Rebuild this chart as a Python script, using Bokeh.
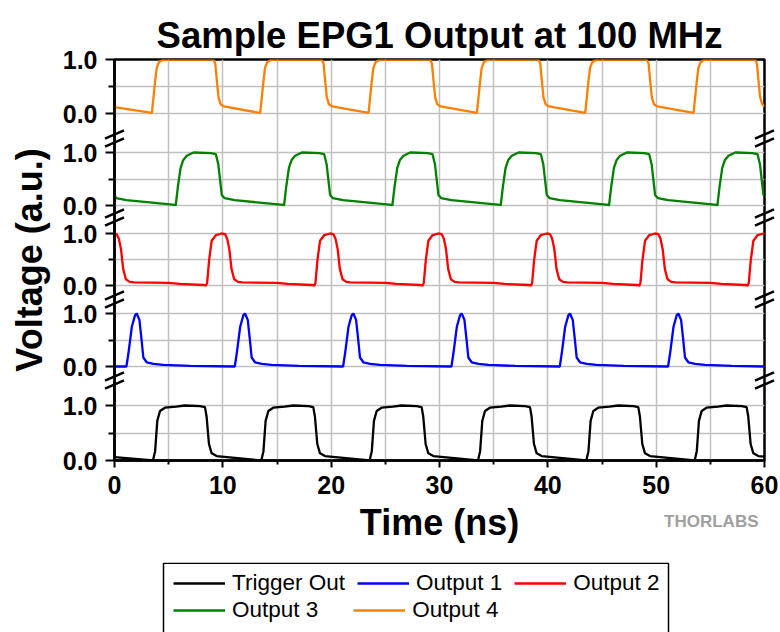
from bokeh.plotting import figure
from bokeh.models import (Range1d, FixedTicker, Legend, LegendItem, ColumnDataSource)
from bokeh.layouts import column
from bokeh.core.properties import value
from bokeh.embed import file_html
from bokeh.resources import INLINE

# ---------------- data ----------------
title_text = "Sample EPG1 Output at 100 MHz"
x_label = "Time (ns)"
y_label = "Voltage (a.u.)"
logo_text = "THORLABS"
x_ticks = [0, 10, 20, 30, 40, 50, 60]
x_minor_ticks = [5, 15, 25, 35, 45, 55]
x_grid = [5, 10, 15, 20, 25, 30, 35, 40, 45, 50, 55]
y_tick_labels = ["0.0", "1.0"]
y_minor_value = 0.5

series_names = ["Trigger Out", "Output 1", "Output 2", "Output 3", "Output 4"]
series_colors = ["#000000", "#0000FF", "#FF0000", "#008000", "#FF8000"]
legend_rows = [[0, 1, 2], [3, 4]]

trigger_t = [0.0,
    3.55, 3.75, 3.95, 4.2, 4.65, 5.7, 6.5, 7.9, 8.35, 8.5, 8.72, 8.97, 9.43,
    13.55, 13.75, 13.95, 14.2, 14.65, 15.7, 16.5, 17.9, 18.35, 18.5, 18.72, 18.97, 19.43,
    23.55, 23.75, 23.95, 24.2, 24.65, 25.7, 26.5, 27.9, 28.35, 28.5, 28.72, 28.97, 29.43,
    33.55, 33.75, 33.95, 34.2, 34.65, 35.7, 36.5, 37.9, 38.35, 38.5, 38.72, 38.97, 39.43,
    43.55, 43.75, 43.95, 44.2, 44.65, 45.7, 46.5, 47.9, 48.35, 48.5, 48.72, 48.97, 49.43,
    53.55, 53.75, 53.95, 54.2, 54.65, 55.7, 56.5, 57.9, 58.35, 58.5, 58.72, 58.97, 59.43,
    60.0]
trigger_v = [0.06,
    0.0, 0.17, 0.72, 0.9, 0.96, 0.98, 1.0, 0.99, 0.97, 0.8, 0.3, 0.13, 0.08,
    0.0, 0.17, 0.72, 0.9, 0.96, 0.98, 1.0, 0.99, 0.97, 0.8, 0.3, 0.13, 0.08,
    0.0, 0.17, 0.72, 0.9, 0.96, 0.98, 1.0, 0.99, 0.97, 0.8, 0.3, 0.13, 0.08,
    0.0, 0.17, 0.72, 0.9, 0.96, 0.98, 1.0, 0.99, 0.97, 0.8, 0.3, 0.13, 0.08,
    0.0, 0.17, 0.72, 0.9, 0.96, 0.98, 1.0, 0.99, 0.97, 0.8, 0.3, 0.13, 0.08,
    0.0, 0.17, 0.72, 0.9, 0.96, 0.98, 1.0, 0.99, 0.97, 0.8, 0.3, 0.13, 0.08,
    0.07]

out1_t = [0.0,
    1.1, 1.28, 1.6, 1.9, 2.05, 2.3, 2.5, 2.66, 2.97, 3.6, 4.5, 7.0,
    11.1, 11.28, 11.6, 11.9, 12.05, 12.3, 12.5, 12.66, 12.97, 13.6, 14.5, 17.0,
    21.1, 21.28, 21.6, 21.9, 22.05, 22.3, 22.5, 22.66, 22.97, 23.6, 24.5, 27.0,
    31.1, 31.28, 31.6, 31.9, 32.05, 32.3, 32.5, 32.66, 32.97, 33.6, 34.5, 37.0,
    41.1, 41.28, 41.6, 41.9, 42.05, 42.3, 42.5, 42.66, 42.97, 43.6, 44.5, 47.0,
    51.1, 51.28, 51.6, 51.9, 52.05, 52.3, 52.5, 52.66, 52.97, 53.6, 54.5, 57.0,
    60.0]
out1_v = [0.0,
    0.0, 0.24, 0.75, 0.97, 1.0, 0.88, 0.5, 0.17, 0.08, 0.05, 0.03, 0.01,
    0.0, 0.24, 0.75, 0.97, 1.0, 0.88, 0.5, 0.17, 0.08, 0.05, 0.03, 0.01,
    0.0, 0.24, 0.75, 0.97, 1.0, 0.88, 0.5, 0.17, 0.08, 0.05, 0.03, 0.01,
    0.0, 0.24, 0.75, 0.97, 1.0, 0.88, 0.5, 0.17, 0.08, 0.05, 0.03, 0.01,
    0.0, 0.24, 0.75, 0.97, 1.0, 0.88, 0.5, 0.17, 0.08, 0.05, 0.03, 0.01,
    0.0, 0.24, 0.75, 0.97, 1.0, 0.88, 0.5, 0.17, 0.08, 0.05, 0.03, 0.01,
    0.0]

out2_t = [0.0,
    0.2, 0.4, 0.6, 0.8, 1.05, 1.4, 1.8, 5.0, 6.0, 8.2, 8.45, 8.55, 8.73, 8.97, 9.37, 9.9,
    10.2, 10.4, 10.6, 10.8, 11.05, 11.4, 11.8, 15.0, 16.0, 18.2, 18.45, 18.55, 18.73, 18.97, 19.37, 19.9,
    20.2, 20.4, 20.6, 20.8, 21.05, 21.4, 21.8, 25.0, 26.0, 28.2, 28.45, 28.55, 28.73, 28.97, 29.37, 29.9,
    30.2, 30.4, 30.6, 30.8, 31.05, 31.4, 31.8, 35.0, 36.0, 38.2, 38.45, 38.55, 38.73, 38.97, 39.37, 39.9,
    40.2, 40.4, 40.6, 40.8, 41.05, 41.4, 41.8, 45.0, 46.0, 48.2, 48.45, 48.55, 48.73, 48.97, 49.37, 49.9,
    50.2, 50.4, 50.6, 50.8, 51.05, 51.4, 51.8, 55.0, 56.0, 58.2, 58.45, 58.55, 58.73, 58.97, 59.37, 59.9,
    60.0]
out2_v = [1.0,
    0.99, 0.9, 0.7, 0.32, 0.12, 0.07, 0.06, 0.05, 0.03, 0.01, 0.0, 0.05, 0.48, 0.86, 0.97, 1.0,
    0.99, 0.9, 0.7, 0.32, 0.12, 0.07, 0.06, 0.05, 0.03, 0.01, 0.0, 0.05, 0.48, 0.86, 0.97, 1.0,
    0.99, 0.9, 0.7, 0.32, 0.12, 0.07, 0.06, 0.05, 0.03, 0.01, 0.0, 0.05, 0.48, 0.86, 0.97, 1.0,
    0.99, 0.9, 0.7, 0.32, 0.12, 0.07, 0.06, 0.05, 0.03, 0.01, 0.0, 0.05, 0.48, 0.86, 0.97, 1.0,
    0.99, 0.9, 0.7, 0.32, 0.12, 0.07, 0.06, 0.05, 0.03, 0.01, 0.0, 0.05, 0.48, 0.86, 0.97, 1.0,
    0.99, 0.9, 0.7, 0.32, 0.12, 0.07, 0.06, 0.05, 0.03, 0.01, 0.0, 0.05, 0.48, 0.86, 0.97, 1.0,
    1.0]

out3_t = [0.0,
    0.15, 1.1, 5.6, 5.65, 5.85, 6.1, 6.35, 6.67, 7.3, 8.9, 9.35, 9.58, 9.9,
    10.15, 11.1, 15.6, 15.65, 15.85, 16.1, 16.35, 16.67, 17.3, 18.9, 19.35, 19.58, 19.9,
    20.15, 21.1, 25.6, 25.65, 25.85, 26.1, 26.35, 26.67, 27.3, 28.9, 29.35, 29.58, 29.9,
    30.15, 31.1, 35.6, 35.65, 35.85, 36.1, 36.35, 36.67, 37.3, 38.9, 39.35, 39.58, 39.9,
    40.15, 41.1, 45.6, 45.65, 45.85, 46.1, 46.35, 46.67, 47.3, 48.9, 49.35, 49.58, 49.9,
    50.15, 51.1, 55.6, 55.65, 55.85, 56.1, 56.35, 56.67, 57.3, 58.9, 59.35, 59.58, 59.9,
    60.0]
out3_v = [0.2,
    0.14, 0.1, 0.01, 0.0, 0.35, 0.71, 0.86, 0.94, 1.0, 0.99, 0.97, 0.78, 0.2,
    0.14, 0.1, 0.01, 0.0, 0.35, 0.71, 0.86, 0.94, 1.0, 0.99, 0.97, 0.78, 0.2,
    0.14, 0.1, 0.01, 0.0, 0.35, 0.71, 0.86, 0.94, 1.0, 0.99, 0.97, 0.78, 0.2,
    0.14, 0.1, 0.01, 0.0, 0.35, 0.71, 0.86, 0.94, 1.0, 0.99, 0.97, 0.78, 0.2,
    0.14, 0.1, 0.01, 0.0, 0.35, 0.71, 0.86, 0.94, 1.0, 0.99, 0.97, 0.78, 0.2,
    0.14, 0.1, 0.01, 0.0, 0.35, 0.71, 0.86, 0.94, 1.0, 0.99, 0.97, 0.78, 0.2,
    0.18]

out4_t = [0.0,
    3.45, 3.6, 3.75, 3.9, 4.1, 4.4, 4.8, 9.1, 9.3, 9.45, 9.6, 9.8, 10.1,
    13.45, 13.6, 13.75, 13.9, 14.1, 14.4, 14.8, 19.1, 19.3, 19.45, 19.6, 19.8, 20.1,
    23.45, 23.6, 23.75, 23.9, 24.1, 24.4, 24.8, 29.1, 29.3, 29.45, 29.6, 29.8, 30.1,
    33.45, 33.6, 33.75, 33.9, 34.1, 34.4, 34.8, 39.1, 39.3, 39.45, 39.6, 39.8, 40.1,
    43.45, 43.6, 43.75, 43.9, 44.1, 44.4, 44.8, 49.1, 49.3, 49.45, 49.6, 49.8, 50.1,
    53.45, 53.6, 53.75, 53.9, 54.1, 54.4, 54.8, 59.1, 59.3, 59.45, 59.6, 59.8, 60.0]
out4_v = [0.12,
    0.01, 0.3, 0.6, 0.85, 0.95, 0.99, 1.0, 1.0, 0.93, 0.6, 0.3, 0.17, 0.13,
    0.01, 0.3, 0.6, 0.85, 0.95, 0.99, 1.0, 1.0, 0.93, 0.6, 0.3, 0.17, 0.13,
    0.01, 0.3, 0.6, 0.85, 0.95, 0.99, 1.0, 1.0, 0.93, 0.6, 0.3, 0.17, 0.13,
    0.01, 0.3, 0.6, 0.85, 0.95, 0.99, 1.0, 1.0, 0.93, 0.6, 0.3, 0.17, 0.13,
    0.01, 0.3, 0.6, 0.85, 0.95, 0.99, 1.0, 1.0, 0.93, 0.6, 0.3, 0.17, 0.13,
    0.01, 0.3, 0.6, 0.85, 0.95, 0.99, 1.0, 1.0, 0.93, 0.6, 0.3, 0.17, 0.13]

series_t = [trigger_t, out1_t, out2_t, out3_t, out4_t]
series_v = [trigger_v, out1_v, out2_v, out3_v, out4_v]

# ---------------- layout (pixels) ----------------
FONT = "Liberation Sans"
W, H = 780, 632
LEG_TOP = 562                          # page y where the legend strip starts
BORDER_L, BORDER_R, BORDER_T = 114, 16, 59
FRAME_W, FRAME_H = W - BORDER_L - BORDER_R, 401
PANEL_BASE = [0, 94, 175, 255, 347]   # px of 0.0 above frame bottom per series
PANEL_UNIT = [55, 53, 52, 53, 54]     # px per 1.0
BREAKS = [80, 161, 243, 322]          # axis-break centres, px above frame bottom
X0, X1 = x_ticks[0], x_ticks[-1]
PX_PER_X = FRAME_W / (X1 - X0)
LW = 2.3

p = figure(width=W, height=LEG_TOP, output_backend="svg", toolbar_location=None,
           x_range=Range1d(X0, X1), y_range=Range1d(0, FRAME_H),
           min_border_left=BORDER_L, min_border_right=BORDER_R,
           min_border_top=BORDER_T, min_border_bottom=LEG_TOP - BORDER_T - FRAME_H)
p.background_fill_color = "white"
p.border_fill_color = "white"
p.outline_line_color = "black"
p.outline_line_width = 2.5

# per-series y ranges (broken axis)
extra = {}
for i in range(len(series_names)):
    b, u = PANEL_BASE[i], PANEL_UNIT[i]
    extra["s%d" % i] = Range1d(-b / u, (FRAME_H - b) / u)
p.extra_y_ranges = extra

# y ticks in frame pixel space
y_major, y_minor, overrides = [], [], {}
for b, u in zip(PANEL_BASE, PANEL_UNIT):
    y_major += [b, b + u]
    overrides[b] = y_tick_labels[0]
    overrides[b + u] = y_tick_labels[1]
    y_minor.append(b + u * y_minor_value)

xa = p.xaxis[0]
xa.ticker = FixedTicker(ticks=x_ticks, minor_ticks=x_minor_ticks)
xa.axis_label = x_label
ya = p.yaxis[0]
ya.ticker = FixedTicker(ticks=y_major, minor_ticks=y_minor)
ya.major_label_overrides = overrides
ya.axis_label = y_label

for ax in (xa, ya):
    ax.axis_line_width = 2.5
    ax.axis_line_color = "black"
    ax.major_tick_line_width = 2
    ax.minor_tick_line_width = 2
    ax.major_tick_line_color = "black"
    ax.minor_tick_line_color = "black"
    ax.major_tick_in = 0
    ax.minor_tick_in = 0
    ax.major_label_text_font = FONT
    ax.major_label_text_font_size = "25px"
    ax.major_label_text_font_style = "bold"
    ax.major_label_text_color = "black"
    ax.axis_label_text_font = FONT
    ax.axis_label_text_font_size = "36px"
    ax.axis_label_text_font_style = "bold"
    ax.axis_label_text_color = "black"
xa.major_tick_out = 7
xa.minor_tick_out = 4
xa.major_label_standoff = 8
xa.axis_label_standoff = 5
ya.major_tick_out = 9
ya.minor_tick_out = 6
ya.major_label_standoff = 8
ya.axis_label_standoff = 10

p.xgrid.ticker = FixedTicker(ticks=x_grid)
p.ygrid.ticker = FixedTicker(ticks=sorted(y_major + y_minor))
for g in (p.xgrid[0], p.ygrid[0]):
    g.grid_line_color = "#C0C0C0"
    g.grid_line_width = 1.5

for i, (t, v, c) in enumerate(zip(series_t, series_v, series_colors)):
    p.line(t, v, y_range_name="s%d" % i, line_color=c, line_width=LW)

# axis break marks (//) on both spines, drawn unclipped at overlay level
sx0, sy0, sx1, sy1 = [], [], [], []
dx, dy, gap = 9.5 / PX_PER_X, 4.2, 4.0
for xc in (X0, X1):
    for bk in BREAKS:
        for s in (-gap, gap):
            sx0.append(xc - dx); sy0.append(bk + s - dy)
            sx1.append(xc + dx); sy1.append(bk + s + dy)
brk_src = ColumnDataSource(dict(x0=sx0, y0=sy0, x1=sx1, y1=sy1))
p.segment(x0="x0", y0="y0", x1="x1", y1="y1", source=brk_src,
          line_color="black", line_width=2.5, level="overlay")

# title and logo as unclipped text
p.text(x=[(X0 + X1) / 2], y=[FRAME_H + 24], text=[title_text], text_align="center",
       text_baseline="alphabetic", text_font=value(FONT), text_font_style="bold",
       text_font_size="36.5px", text_color="black", level="overlay")
p.text(x=[X1], y=[-61], text=[logo_text], x_offset=-6, text_align="right",
       text_baseline="middle", text_font=value(FONT), text_font_style="bold",
       text_font_size="17px", text_color="#A0A0A0", level="overlay")

# ---------------- legend strip below the chart ----------------
LEG_H = H - LEG_TOP
BOX_L, BOX_R = 163, 668               # legend box, page x
ROW_BOTTOM = [36, 9]                  # legend row bottoms, px above strip bottom
ROW_SPACING = [12, 35]
ITEM_X = 59                           # first legend glyph start, px right of frame left
pl = figure(width=W, height=LEG_H, output_backend="svg", toolbar_location=None,
            x_range=Range1d(BORDER_L, W - BORDER_R), y_range=Range1d(0, LEG_H),
            min_border_left=BORDER_L, min_border_right=BORDER_R,
            min_border_top=0, min_border_bottom=0,
            x_axis_location=None, y_axis_location=None)
pl.grid.visible = False
pl.outline_line_color = None
pl.background_fill_color = "white"
pl.border_fill_color = "white"
pl.extra_y_ranges = {"hidden": Range1d(10, 20)}
keys = [pl.line(t, v, y_range_name="hidden", line_color=c, line_width=2.6)
        for t, v, c in zip(series_t, series_v, series_colors)]
pl.quad(left=[BOX_L], right=[BOX_R], top=[LEG_H - 0.75], bottom=[-10],
        fill_alpha=0, line_color="black", line_width=1.5)
for row, yb, sp in zip(legend_rows, ROW_BOTTOM, ROW_SPACING):
    lg = Legend(items=[LegendItem(label=series_names[k], renderers=[keys[k]]) for k in row],
                location=(ITEM_X, yb), orientation="horizontal",
                label_text_font=FONT, label_text_font_size="22.5px", label_text_color="black",
                glyph_width=52, label_standoff=7, spacing=sp, padding=0, margin=0,
                border_line_alpha=0, background_fill_alpha=0)
    pl.add_layout(lg)

open("out.html", "w").write(file_html(column(p, pl, spacing=0), INLINE))
